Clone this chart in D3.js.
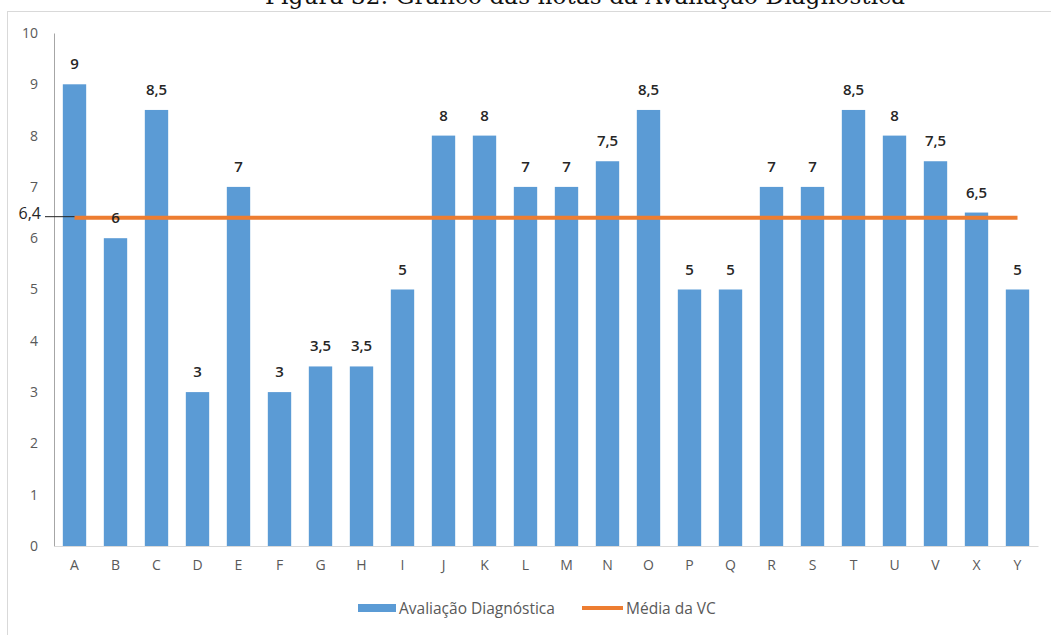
<!DOCTYPE html>
<html>
<head>
<meta charset="utf-8">
<script src="https://cdn.jsdelivr.net/npm/d3@7"></script>
<style>
  html, body { margin: 0; padding: 0; background: #fff; }
  svg { display: block; }
</style>
</head>
<body>
<svg id="chart" width="1051" height="635"></svg>
<script>
// Students and their diagnostic assessment grades
const students = ["A","B","C","D","E","F","G","H","I","J","K","L","M","N","O","P","Q","R","S","T","U","V","X","Y"];
const grades   = [9, 6, 8.5, 3, 7, 3, 3.5, 3.5, 5, 8, 8, 7, 7, 7.5, 8.5, 5, 5, 7, 7, 8.5, 8, 7.5, 6.5, 5];
// Class mean
const classMean = 6.4;
const yTicks = [0,1,2,3,4,5,6,7,8,9,10];
const seriesNames = ["Avaliação Diagnóstica", "Média da VC"];
const titleText = "Figura 32: Gráfico das notas da Avaliação Diagnóstica";

const BLUE = "#5b9bd5", ORANGE = "#ed7d31";
const fmt = v => String(v).replace(".", ",");

const svg = d3.select("#chart");

// caption (runs off the top edge of the page)
svg.append("text")
  .attr("x", 585).attr("y", 4)
  .attr("text-anchor", "middle")
  .attr("font-family", "'DejaVu Serif', 'Liberation Serif', serif")
  .attr("font-size", 23)
  .attr("textLength", 640)
  .attr("fill", "#111")
  .text(titleText);

// chart frame
svg.append("rect")
  .attr("x", 7.5).attr("y", 11.5)
  .attr("width", 1060).attr("height", 640)
  .attr("fill", "none").attr("stroke", "#d9d9d9");

const plot = { left: 54, right: 1038, top: 33, bottom: 546 };

const x = d3.scaleBand().domain(students).range([plot.left, plot.right]).paddingInner(0.43).paddingOuter(0.215);
const y = d3.scaleLinear().domain([0, 10]).range([plot.bottom, plot.top]);

// y axis
const yAxis = svg.append("g")
  .attr("transform", `translate(${plot.left},0)`)
  .call(d3.axisLeft(y).tickValues(yTicks).tickSize(0).tickPadding(16).tickFormat(d => d));
yAxis.select(".domain").attr("stroke", "#a6a6a6");
yAxis.selectAll("text")
  .attr("font-family", "'Open Sans', sans-serif").attr("font-size", 14).attr("fill", "#595959");

// x axis
const xAxis = svg.append("g")
  .attr("transform", `translate(0,${plot.bottom})`)
  .call(d3.axisBottom(x).tickSize(0).tickPadding(14));
xAxis.select(".domain").attr("stroke", "#d9d9d9");
xAxis.selectAll("text")
  .attr("font-family", "'Open Sans', sans-serif").attr("font-size", 14).attr("fill", "#595959");

// bars
svg.append("g").selectAll("rect")
  .data(students.map((s, i) => ({ s, v: grades[i] })))
  .join("rect")
  .attr("x", d => x(d.s))
  .attr("y", d => y(d.v))
  .attr("width", x.bandwidth())
  .attr("height", d => y(0) - y(d.v))
  .attr("fill", BLUE);

// mean line
const mid = s => x(s) + x.bandwidth() / 2;
svg.append("line")
  .attr("x1", mid(students[0])).attr("x2", mid(students[students.length - 1]))
  .attr("y1", y(classMean)).attr("y2", y(classMean))
  .attr("stroke", ORANGE).attr("stroke-width", 4);

// bar value labels
svg.append("g").selectAll("text")
  .data(students.map((s, i) => ({ s, v: grades[i] })))
  .join("text")
  .attr("x", d => mid(d.s))
  .attr("y", d => y(d.v) - 15)
  .attr("text-anchor", "middle")
  .attr("font-family", "'Open Sans', sans-serif").attr("font-size", 15).attr("font-weight", 600)
  .attr("fill", "#262626")
  .text(d => fmt(d.v));

// mean value callout
svg.append("line")
  .attr("x1", 45).attr("x2", mid(students[0]))
  .attr("y1", y(classMean) - 1).attr("y2", y(classMean) - 1)
  .attr("stroke", "#222").attr("stroke-width", 1);
svg.append("text")
  .attr("x", 41).attr("y", y(classMean) + 1)
  .attr("text-anchor", "end")
  .attr("font-family", "'Open Sans', sans-serif").attr("font-size", 16)
  .attr("fill", "#262626")
  .text(fmt(classMean));

// legend
const lg = svg.append("g").attr("font-family", "'Open Sans', sans-serif").attr("font-size", 15.5).attr("fill", "#595959");
lg.append("rect").attr("x", 358).attr("y", 604).attr("width", 38).attr("height", 8).attr("fill", BLUE);
lg.append("text").attr("x", 399).attr("y", 614).text(seriesNames[0]);
lg.append("line").attr("x1", 582).attr("x2", 623).attr("y1", 608).attr("y2", 608).attr("stroke", ORANGE).attr("stroke-width", 4);
lg.append("text").attr("x", 626).attr("y", 614).text(seriesNames[1]);
</script>
</body>
</html>
